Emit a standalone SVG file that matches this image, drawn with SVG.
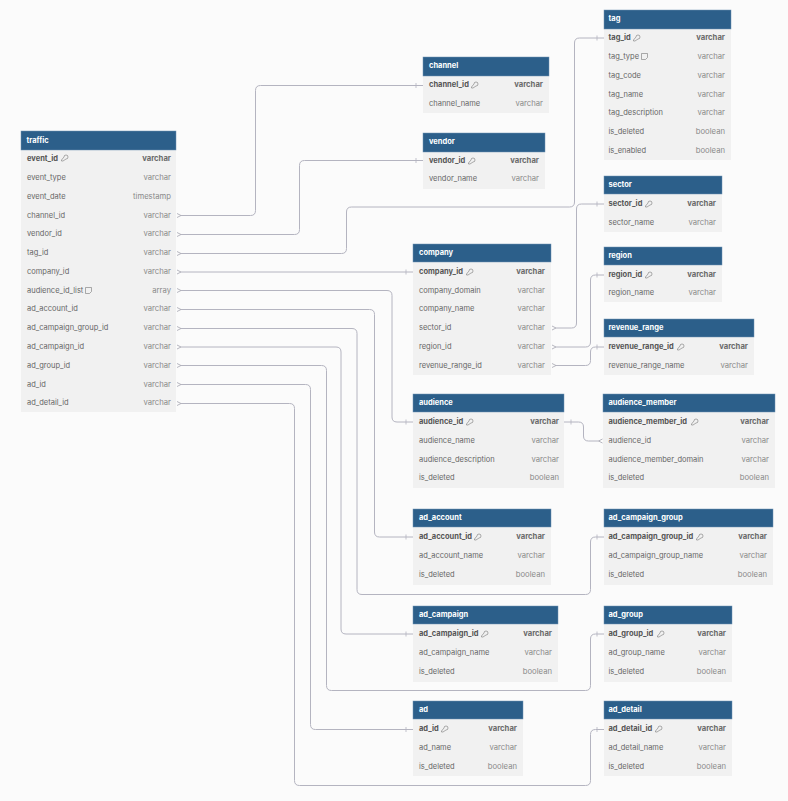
<svg xmlns="http://www.w3.org/2000/svg" width="788" height="801" viewBox="0 0 788 801">
<style>
text{font-family:Inter,"Liberation Sans",sans-serif;font-size:7.5px;fill:#666}
.h{fill:#2c5f8a;stroke:#6f93b3;stroke-width:.5}
.b{fill:#f1f1f1}
.t{font-weight:700;fill:#fff}
.k{font-weight:700;fill:#555}
.r{text-anchor:end;fill:#8a8a8a;font-size:7.7px}
.kr{text-anchor:end;font-weight:700;fill:#6a6a6a;font-size:7.7px}
.c{fill:none;stroke:#b4b4c0;stroke-width:1}
.i{fill:none;stroke:#777;stroke-width:.6}
</style>
<defs>
<marker id="one" markerUnits="userSpaceOnUse" markerWidth="14" markerHeight="8" refX="13" refY="4" orient="auto"><path d="M6 1.500V6.500" fill="none" stroke="#b4b4c0" stroke-width=".8"/></marker>
<marker id="many" markerUnits="userSpaceOnUse" markerWidth="8" markerHeight="8" refX="4" refY="4" orient="auto"><path d="M0 2L4 4L0 6" fill="none" stroke="#a4a4b0" stroke-width=".8"/></marker>
<symbol id="key" overflow="visible"><path class="i" d="M.5 6L3 3A2 2 0 1 1 5 5L2 7H.5Z"/></symbol>
<symbol id="note" overflow="visible"><path class="i" d="M.5 .5H6.500V4.500L4.500 6.500H.5Z"/></symbol>
</defs>
<rect width="788" height="801" fill="#fbfbfb"/>
<g id="connectors">
<path class="c" marker-start="url(#many)" marker-end="url(#one)" d="M181 215.500H250.500Q255.500 215.500 255.500 210.500V90.500Q255.500 85.500 260.500 85.500H423"/>
<path class="c" marker-start="url(#many)" marker-end="url(#one)" d="M181 234.500H294.500Q299.500 234.500 299.500 229.500V165.500Q299.500 160.500 304.500 160.500H423"/>
<path class="c" marker-start="url(#many)" marker-end="url(#one)" d="M181 253.500H341.500Q346.500 253.500 346.500 248.500V212Q346.500 207 351.500 207H569.500Q574.500 207 574.500 202V43Q574.500 38 579.500 38H604"/>
<path class="c" marker-start="url(#many)" marker-end="url(#one)" d="M181 272H413"/>
<path class="c" marker-start="url(#many)" marker-end="url(#one)" d="M181 290.500H387Q392 290.500 392 295.500V417Q392 422 397 422H413"/>
<path class="c" marker-start="url(#many)" marker-end="url(#one)" d="M181 309.500H369.500Q374.500 309.500 374.500 314.500V532Q374.500 537 379.500 537H413"/>
<path class="c" marker-start="url(#many)" marker-end="url(#one)" d="M181 328.500H352Q357 328.500 357 333.500V589.500Q357 594.500 362 594.500H585.500Q590.500 594.500 590.500 589.500V542Q590.500 537 595.500 537H604"/>
<path class="c" marker-start="url(#many)" marker-end="url(#one)" d="M181 347H336Q341 347 341 352V629Q341 634 346 634H413"/>
<path class="c" marker-start="url(#many)" marker-end="url(#one)" d="M181 365.500H321.500Q326.500 365.500 326.500 370.500V685.500Q326.500 690.500 331.500 690.500H585.500Q590.500 690.500 590.500 685.500V639Q590.500 634 595.500 634H604"/>
<path class="c" marker-start="url(#many)" marker-end="url(#one)" d="M181 384.500H305.500Q310.500 384.500 310.500 389.500V724.500Q310.500 729.500 315.500 729.500H413"/>
<path class="c" marker-start="url(#many)" marker-end="url(#one)" d="M181 403.500H289.500Q294.500 403.500 294.500 408.500V780.500Q294.500 785.500 299.500 785.500H585.500Q590.500 785.500 590.500 780.500V734.500Q590.500 729.500 595.500 729.500H604"/>
<path class="c" marker-start="url(#many)" marker-end="url(#one)" d="M556 328H571.500Q576.500 328 576.500 323V209Q576.500 204 581.500 204H604"/>
<path class="c" marker-start="url(#many)" marker-end="url(#one)" d="M556 347H585.500Q590.500 347 590.500 342V280Q590.500 275 595.500 275H604"/>
<path class="c" marker-start="url(#many)" marker-end="url(#one)" d="M556 365.500H585.500Q590.500 365.500 590.500 360.500V352Q590.500 347 595.500 347H604"/>
<path class="c" marker-start="url(#many)" marker-end="url(#one)" d="M598.500 441H588.500Q583.500 441 583.500 436V427Q583.500 422 578.500 422H564"/>
</g>
<g id="traffic"><rect class="b" x="21" y="131" width="155" height="281"/><rect class="h" x="21" y="131" width="155" height="19"/><text class="t" x="26.500" y="143">traffic</text>
<text class="k" x="27" y="161">event_id</text><use href="#key" x="61" y="154"/><text class="kr" x="171" y="161">varchar</text>
<text x="27" y="180">event_type</text><text class="r" x="171" y="180">varchar</text>
<text x="27" y="199">event_date</text><text class="r" x="171" y="199">timestamp</text>
<text x="27" y="218">channel_id</text><text class="r" x="171" y="218">varchar</text>
<text x="27" y="236">vendor_id</text><text class="r" x="171" y="236">varchar</text>
<text x="27" y="255">tag_id</text><text class="r" x="171" y="255">varchar</text>
<text x="27" y="274">company_id</text><text class="r" x="171" y="274">varchar</text>
<text x="27" y="293">audience_id_list</text><use href="#note" x="85" y="287"/><text class="r" x="171" y="293">array</text>
<text x="27" y="311">ad_account_id</text><text class="r" x="171" y="311">varchar</text>
<text x="27" y="330">ad_campaign_group_id</text><text class="r" x="171" y="330">varchar</text>
<text x="27" y="349">ad_campaign_id</text><text class="r" x="171" y="349">varchar</text>
<text x="27" y="368">ad_group_id</text><text class="r" x="171" y="368">varchar</text>
<text x="27" y="387">ad_id</text><text class="r" x="171" y="387">varchar</text>
<text x="27" y="405">ad_detail_id</text><text class="r" x="171" y="405">varchar</text></g>
<g id="channel"><rect class="b" x="423" y="57" width="126" height="56"/><rect class="h" x="423" y="57" width="126" height="19"/><text class="t" x="429" y="68">channel</text>
<text class="k" x="429" y="87">channel_id</text><use href="#key" x="471" y="81"/><text class="kr" x="543" y="87">varchar</text>
<text x="429" y="106">channel_name</text><text class="r" x="543" y="106">varchar</text></g>
<g id="vendor"><rect class="b" x="423" y="133" width="122" height="56"/><rect class="h" x="423" y="133" width="122" height="19"/><text class="t" x="429" y="144">vendor</text>
<text class="k" x="429" y="163">vendor_id</text><use href="#key" x="468" y="157"/><text class="kr" x="539" y="163">varchar</text>
<text x="429" y="181">vendor_name</text><text class="r" x="539" y="181">varchar</text></g>
<g id="tag"><rect class="b" x="604" y="10" width="127" height="150"/><rect class="h" x="604" y="10" width="127" height="19"/><text class="t" x="608.500" y="21">tag</text>
<text class="k" x="608.500" y="40">tag_id</text><use href="#key" x="633" y="34"/><text class="kr" x="725" y="40">varchar</text>
<text x="608.500" y="59">tag_type</text><use href="#note" x="641" y="53"/><text class="r" x="725" y="59">varchar</text>
<text x="608.500" y="78">tag_code</text><text class="r" x="725" y="78">varchar</text>
<text x="608.500" y="97">tag_name</text><text class="r" x="725" y="97">varchar</text>
<text x="608.500" y="115">tag_description</text><text class="r" x="725" y="115">varchar</text>
<text x="608.500" y="134">is_deleted</text><text class="r" x="725" y="134">boolean</text>
<text x="608.500" y="153">is_enabled</text><text class="r" x="725" y="153">boolean</text></g>
<g id="sector"><rect class="b" x="604" y="176" width="118" height="56"/><rect class="h" x="604" y="176" width="118" height="18"/><text class="t" x="608.500" y="187">sector</text>
<text class="k" x="608.500" y="206">sector_id</text><use href="#key" x="645" y="200"/><text class="kr" x="716" y="206">varchar</text>
<text x="608.500" y="225">sector_name</text><text class="r" x="716" y="225">varchar</text></g>
<g id="region"><rect class="b" x="604" y="247" width="118" height="55"/><rect class="h" x="604" y="247" width="118" height="18"/><text class="t" x="608.500" y="258">region</text>
<text class="k" x="608.500" y="277">region_id</text><use href="#key" x="645" y="271"/><text class="kr" x="716" y="277">varchar</text>
<text x="608.500" y="295">region_name</text><text class="r" x="716" y="295">varchar</text></g>
<g id="revenue_range"><rect class="b" x="604" y="319" width="150" height="56"/><rect class="h" x="604" y="319" width="150" height="18"/><text class="t" x="608.500" y="330">revenue_range</text>
<text class="k" x="608.500" y="349">revenue_range_id</text><use href="#key" x="677" y="343"/><text class="kr" x="748" y="349">varchar</text>
<text x="608.500" y="368">revenue_range_name</text><text class="r" x="748" y="368">varchar</text></g>
<g id="company"><rect class="b" x="413" y="244" width="138" height="131"/><rect class="h" x="413" y="244" width="138" height="18"/><text class="t" x="419" y="255">company</text>
<text class="k" x="419" y="274">company_id</text><use href="#key" x="466" y="268"/><text class="kr" x="545" y="274">varchar</text>
<text x="419" y="293">company_domain</text><text class="r" x="545" y="293">varchar</text>
<text x="419" y="311">company_name</text><text class="r" x="545" y="311">varchar</text>
<text x="419" y="330">sector_id</text><text class="r" x="545" y="330">varchar</text>
<text x="419" y="349">region_id</text><text class="r" x="545" y="349">varchar</text>
<text x="419" y="368">revenue_range_id</text><text class="r" x="545" y="368">varchar</text></g>
<g id="audience"><rect class="b" x="413" y="394" width="151" height="94"/><rect class="h" x="413" y="394" width="151" height="18"/><text class="t" x="419" y="405">audience</text>
<text class="k" x="419" y="424">audience_id</text><use href="#key" x="466" y="418"/><text class="kr" x="559" y="424">varchar</text>
<text x="419" y="443">audience_name</text><text class="r" x="559" y="443">varchar</text>
<text x="419" y="462">audience_description</text><text class="r" x="559" y="462">varchar</text>
<text x="419" y="480">is_deleted</text><text class="r" x="559" y="480">boolean</text></g>
<g id="audience_member"><rect class="b" x="603" y="394" width="172" height="94"/><rect class="h" x="603" y="394" width="172" height="18"/><text class="t" x="608.500" y="405">audience_member</text>
<text class="k" x="608.500" y="424">audience_member_id</text><use href="#key" x="691" y="418"/><text class="kr" x="769" y="424">varchar</text>
<text x="608.500" y="443">audience_id</text><text class="r" x="769" y="443">varchar</text>
<text x="608.500" y="462">audience_member_domain</text><text class="r" x="769" y="462">varchar</text>
<text x="608.500" y="480">is_deleted</text><text class="r" x="769" y="480">boolean</text></g>
<g id="ad_account"><rect class="b" x="413" y="509" width="138" height="76"/><rect class="h" x="413" y="509" width="138" height="18"/><text class="t" x="419" y="520">ad_account</text>
<text class="k" x="419" y="539">ad_account_id</text><use href="#key" x="474" y="533"/><text class="kr" x="545" y="539">varchar</text>
<text x="419" y="558">ad_account_name</text><text class="r" x="545" y="558">varchar</text>
<text x="419" y="577">is_deleted</text><text class="r" x="545" y="577">boolean</text></g>
<g id="ad_campaign_group"><rect class="b" x="604" y="509" width="169" height="76"/><rect class="h" x="604" y="509" width="169" height="18"/><text class="t" x="608.500" y="520">ad_campaign_group</text>
<text class="k" x="608.500" y="539">ad_campaign_group_id</text><use href="#key" x="696" y="533"/><text class="kr" x="767" y="539">varchar</text>
<text x="608.500" y="558">ad_campaign_group_name</text><text class="r" x="767" y="558">varchar</text>
<text x="608.500" y="577">is_deleted</text><text class="r" x="767" y="577">boolean</text></g>
<g id="ad_campaign"><rect class="b" x="413" y="606" width="145" height="76"/><rect class="h" x="413" y="606" width="145" height="18"/><text class="t" x="419" y="617">ad_campaign</text>
<text class="k" x="419" y="636">ad_campaign_id</text><use href="#key" x="481" y="630"/><text class="kr" x="552" y="636">varchar</text>
<text x="419" y="655">ad_campaign_name</text><text class="r" x="552" y="655">varchar</text>
<text x="419" y="674">is_deleted</text><text class="r" x="552" y="674">boolean</text></g>
<g id="ad_group"><rect class="b" x="604" y="606" width="128" height="76"/><rect class="h" x="604" y="606" width="128" height="18"/><text class="t" x="608.500" y="617">ad_group</text>
<text class="k" x="608.500" y="636">ad_group_id</text><use href="#key" x="657" y="630"/><text class="kr" x="726" y="636">varchar</text>
<text x="608.500" y="655">ad_group_name</text><text class="r" x="726" y="655">varchar</text>
<text x="608.500" y="674">is_deleted</text><text class="r" x="726" y="674">boolean</text></g>
<g id="ad"><rect class="b" x="413" y="701" width="110" height="75"/><rect class="h" x="413" y="701" width="110" height="18"/><text class="t" x="419" y="712">ad</text>
<text class="k" x="419" y="731">ad_id</text><use href="#key" x="441" y="725"/><text class="kr" x="517" y="731">varchar</text>
<text x="419" y="750">ad_name</text><text class="r" x="517" y="750">varchar</text>
<text x="419" y="769">is_deleted</text><text class="r" x="517" y="769">boolean</text></g>
<g id="ad_detail"><rect class="b" x="604" y="701" width="128" height="75"/><rect class="h" x="604" y="701" width="128" height="18"/><text class="t" x="608.500" y="712">ad_detail</text>
<text class="k" x="608.500" y="731">ad_detail_id</text><use href="#key" x="655" y="725"/><text class="kr" x="726" y="731">varchar</text>
<text x="608.500" y="750">ad_detail_name</text><text class="r" x="726" y="750">varchar</text>
<text x="608.500" y="769">is_deleted</text><text class="r" x="726" y="769">boolean</text></g>
</svg>
